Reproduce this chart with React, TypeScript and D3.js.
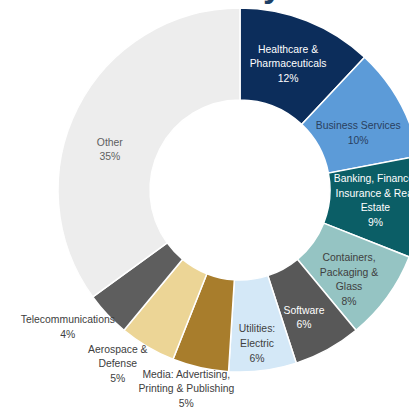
import React from "react";
import * as d3 from "d3";

const categories = [
  "Healthcare & Pharmaceuticals",
  "Business Services",
  "Banking, Finance, Insurance & Real Estate",
  "Containers, Packaging & Glass",
  "Software",
  "Utilities: Electric",
  "Media: Advertising, Printing & Publishing",
  "Aerospace & Defense",
  "Telecommunications",
  "Other",
];
const values = [12, 10, 9, 8, 6, 6, 5, 5, 4, 35];
const labelLines = [
  ["Healthcare &", "Pharmaceuticals", "12%"],
  ["Business Services", "10%"],
  ["Banking, Finance,", "Insurance & Real", "Estate", "9%"],
  ["Containers,", "Packaging &", "Glass", "8%"],
  ["Software", "6%"],
  ["Utilities:", "Electric", "6%"],
  ["Media: Advertising,", "Printing & Publishing", "5%"],
  ["Aerospace &", "Defense", "5%"],
  ["Telecommunications", "4%"],
  ["Other", "35%"],
];

const colors = [
  "#0c2d5b",
  "#5c9bd8",
  "#0b5e66",
  "#95c4c3",
  "#585858",
  "#d4e8f7",
  "#a87d2c",
  "#ecd596",
  "#5e5e5e",
  "#ededed",
];
const textColors = [
  "#ffffff",
  "#2a3f5e",
  "#ffffff",
  "#404040",
  "#ffffff",
  "#404040",
  "#404040",
  "#404040",
  "#404040",
  "#5f5f5f",
];
// layout offsets of label block centre from arc centroid
const labelOffsets: [number, number][] = [
  [-2, 0],
  [-1, 8.5],
  [0, -2.5],
  [-1, 9.5],
  [-1.5, 8],
  [0, 18.5],
  [-24, 66],
  [-53, 56.5],
  [-73, 43.5],
  [-9, 21],
];

export default function App() {
  const W = 409;
  const H = 409;
  const cx = 240;
  const cy = 190;
  const inner = 90;
  const outer = 182;
  const pie = d3
    .pie<number>()
    .sort(null)
    .value((d) => d)
    .startAngle(0)
    .endAngle(2 * Math.PI);
  const arcs = pie(values);
  const arc = d3.arc<d3.PieArcDatum<number>>().innerRadius(inner).outerRadius(outer);
  const labelArc = d3.arc<d3.PieArcDatum<number>>().innerRadius(136).outerRadius(136);
  const fs = 10.4;
  const lh = 14.7;

  return (
    <svg
      width={W}
      height={H}
      style={{ position: "absolute", left: 0, top: 0, display: "block", background: "#fff" }}
    >
      <text x={263} y={-3} fontSize={34} fontFamily="Liberation Sans, Arial, sans-serif" fontWeight="bold" fill="#1d3f66">
        y
      </text>
      <g transform={`translate(${cx},${cy})`}>
        {arcs.map((a, i) => (
          <path key={categories[i]} d={arc(a) || ""} fill={colors[i]} stroke="#ffffff" strokeWidth={1.5} />
        ))}
      </g>
      {arcs.map((a, i) => {
        const [x0, y0] = labelArc.centroid(a);
        const x = cx + x0 + labelOffsets[i][0];
        const yc = cy + y0 + labelOffsets[i][1];
        const lines = labelLines[i];
        const top = yc - ((lines.length - 1) * lh) / 2;
        return (
          <text
            key={"l" + i}
            textAnchor="middle"
            fontFamily="Liberation Sans, Arial, sans-serif"
            fontSize={fs}
            fill={textColors[i]}
          >
            {lines.map((t, j) => (
              <tspan key={j} x={x} y={top + j * lh + 3.7}>
                {t}
              </tspan>
            ))}
          </text>
        );
      })}
    </svg>
  );
}
